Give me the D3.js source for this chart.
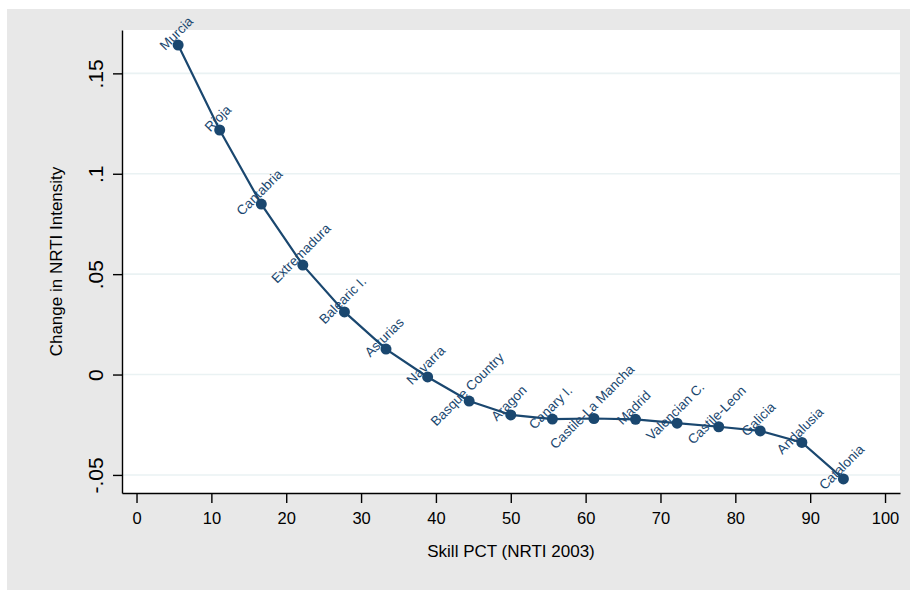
<!DOCTYPE html>
<html>
<head>
<meta charset="utf-8">
<script src="https://cdn.jsdelivr.net/npm/d3@7/dist/d3.min.js"></script>
<style>
  body { margin: 0; background: #ffffff; }
  svg { display: block; }
</style>
</head>
<body>
<div id="chart"></div>
<script>
// Data
var regions = ["Murcia", "Rioja", "Cantabria", "Extremadura", "Balearic I.", "Asturias", "Navarra",
  "Basque Country", "Aragon", "Canary I.", "Castile-La Mancha", "Madrid", "Valencian C.",
  "Castile-Leon", "Galicia", "Andalusia", "Catalonia"];
var skillPct = [5.56, 11.11, 16.67, 22.22, 27.78, 33.33, 38.89, 44.44, 50.0,
  55.56, 61.11, 66.67, 72.22, 77.78, 83.33, 88.89, 94.44];
var nrtiChange = [0.1641, 0.1218, 0.0849, 0.0545, 0.0312, 0.0127, -0.0012, -0.0132, -0.0201,
  -0.0222, -0.0219, -0.0223, -0.0242, -0.0260, -0.0281, -0.0338, -0.0520];

var xTicks = [0, 10, 20, 30, 40, 50, 60, 70, 80, 90, 100];
var yTicks = [-0.05, 0, 0.05, 0.1, 0.15];
var yTickLabels = ["-.05", "0", ".05", ".1", ".15"];

var xTitle = "Skill PCT (NRTI 2003)";
var yTitle = "Change in NRTI Intensity";

// Sizes
var width = 910, height = 596;
var plot = { left: 122, right: 900, top: 30, bottom: 493 };
var navy = "#1a476f";
var font = "'Liberation Sans', Arial, sans-serif";

var svg = d3.select("#chart").append("svg")
    .attr("width", width)
    .attr("height", height);

// graph region + plot region
svg.append("rect")
    .attr("x", 7).attr("y", 9)
    .attr("width", width - 7).attr("height", 581)
    .attr("fill", "#e8e8e8");
svg.append("rect")
    .attr("x", plot.left).attr("y", plot.top)
    .attr("width", plot.right - plot.left).attr("height", plot.bottom - plot.top)
    .attr("fill", "#ffffff");

var x = d3.scaleLinear().domain([-1.94, 102]).range([plot.left, plot.right]);
var y = d3.scaleLinear().domain([-0.059, 0.1716]).range([plot.bottom, plot.top]);

// gridlines
svg.append("g").selectAll("line")
    .data(yTicks)
    .enter().append("line")
    .attr("x1", plot.left).attr("x2", plot.right)
    .attr("y1", d => y(d)).attr("y2", d => y(d))
    .attr("stroke", "#eaf2f3")
    .attr("stroke-width", 1.6);

// y axis
var yAxis = svg.append("g")
    .attr("transform", "translate(" + plot.left + ",0)")
    .call(d3.axisLeft(y).tickValues(yTicks).tickSize(9).tickSizeOuter(0)
      .tickFormat((d, i) => yTickLabels[i]));
yAxis.selectAll("text")
    .attr("transform", "rotate(-90)")
    .attr("x", 0).attr("y", -19.5).attr("dy", 0)
    .attr("text-anchor", "middle")
    .style("font-family", font)
    .style("font-size", "21px")
    .attr("fill", "#000");

// x axis
var xAxis = svg.append("g")
    .attr("transform", "translate(0," + plot.bottom + ")")
    .call(d3.axisBottom(x).tickValues(xTicks).tickSize(10).tickSizeOuter(0));
xAxis.selectAll("text")
    .attr("y", 31).attr("dy", 0)
    .style("font-family", font)
    .style("font-size", "16.5px")
    .attr("fill", "#000");

svg.selectAll(".domain").attr("stroke", "#000").attr("stroke-width", 1.4);
svg.selectAll(".tick line").attr("stroke", "#000").attr("stroke-width", 1.4);

// axis titles
svg.append("text")
    .attr("x", (plot.left + plot.right) / 2)
    .attr("y", 556.5)
    .attr("text-anchor", "middle")
    .style("font-family", font)
    .style("font-size", "17px")
    .text(xTitle);

svg.append("text")
    .attr("transform", "translate(62," + (plot.top + plot.bottom) / 2 + ") rotate(-90)")
    .attr("text-anchor", "middle")
    .style("font-family", font)
    .style("font-size", "17px")
    .text(yTitle);

// point labels (under line and markers)
svg.append("g").selectAll("text")
    .data(regions)
    .enter().append("text")
    .attr("transform", (d, i) => "translate(" + x(skillPct[i]) + "," + y(nrtiChange[i]) + ") rotate(-45)")
    .attr("x", 7).attr("y", -5)
    .attr("text-anchor", "middle")
    .style("font-family", font)
    .style("font-size", "13.5px")
    .attr("fill", navy)
    .text(d => d);

// connecting line
var line = d3.line()
    .x((d, i) => x(skillPct[i]))
    .y(d => y(d));

svg.append("path")
    .datum(nrtiChange)
    .attr("d", line)
    .attr("fill", "none")
    .attr("stroke", navy)
    .attr("stroke-width", 2.2);

// markers
svg.append("g").selectAll("circle")
    .data(nrtiChange)
    .enter().append("circle")
    .attr("cx", (d, i) => x(skillPct[i]))
    .attr("cy", d => y(d))
    .attr("r", 5.5)
    .attr("fill", navy);
</script>
</body>
</html>
